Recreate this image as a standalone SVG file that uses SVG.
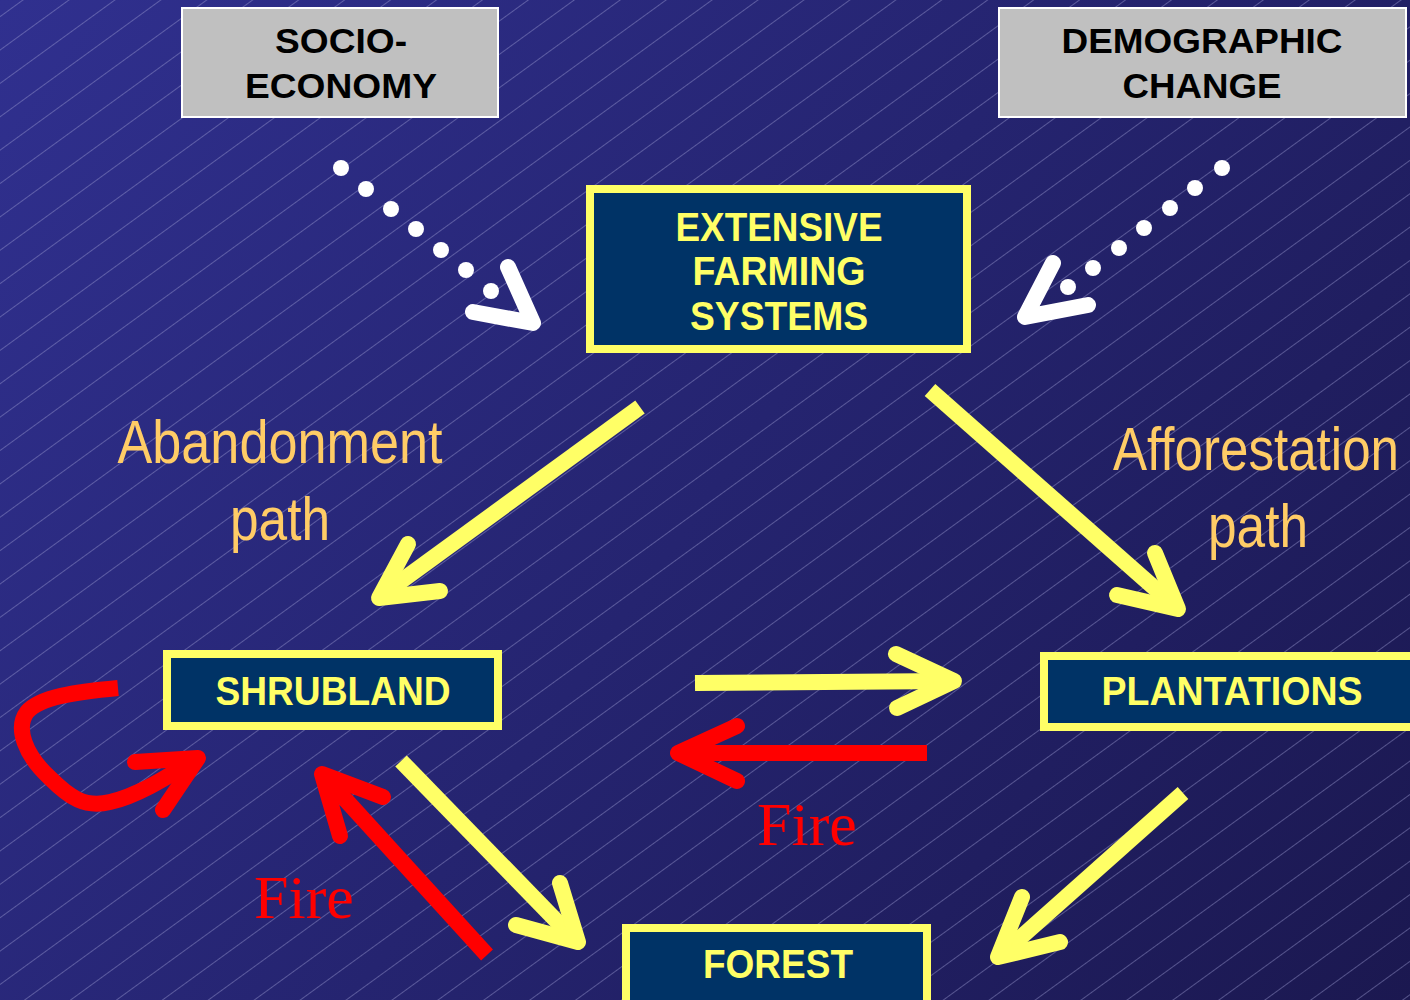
<svg xmlns="http://www.w3.org/2000/svg" width="1410" height="1000" viewBox="0 0 1410 1000">
<defs>
<linearGradient id="bg" x1="0" y1="0" x2="1410" y2="1000" gradientUnits="userSpaceOnUse">
<stop offset="0" stop-color="#30308f"/>
<stop offset="0.5" stop-color="#252470"/>
<stop offset="1" stop-color="#1b1850"/>
</linearGradient>
<pattern id="stripes" width="60" height="27" patternUnits="userSpaceOnUse" patternTransform="rotate(-36)">
<line x1="0" y1="13.5" x2="60" y2="13.5" stroke="#9c9cd0" stroke-opacity="0.45" stroke-width="1"/>
</pattern>
<style>
.gbox{fill:#c0c0c0;stroke:#ffffff;stroke-width:2}
.gtxt{font-family:"Liberation Sans",Arial,sans-serif;font-weight:bold;font-size:35px;fill:#000000;text-anchor:middle}
.ybox{fill:#003366;stroke:#ffff66;stroke-width:8}
.ytxt{font-family:"Liberation Sans",Arial,sans-serif;font-weight:bold;font-size:40px;fill:#ffff66;text-anchor:middle}
.path{font-family:"Liberation Sans Narrow","Liberation Sans",Arial,sans-serif;font-size:62px;fill:#ffcc66;text-anchor:middle}
.fire{font-family:"Liberation Serif","Times New Roman",serif;font-size:62px;fill:#ff0000}
.ys{stroke:#ffff66;stroke-width:16;fill:none;stroke-linecap:butt}
.yh{stroke:#ffff66;stroke-width:16;fill:none;stroke-linecap:round;stroke-linejoin:round}
.rs{stroke:#ff0000;stroke-width:16;fill:none;stroke-linecap:butt}
.rh{stroke:#ff0000;stroke-width:16;fill:none;stroke-linecap:round;stroke-linejoin:round}
.wh{stroke:#ffffff;stroke-width:16;fill:none;stroke-linecap:round;stroke-linejoin:round}
.dot{fill:#ffffff}
</style>
</defs>
<rect x="0" y="0" width="1410" height="1000" fill="url(#bg)"/>
<rect x="0" y="0" width="1410" height="1000" fill="url(#stripes)"/>

<g id="connectors">
<g id="socio-arrow">
<circle class="dot" cx="341" cy="168" r="8"/>
<circle class="dot" cx="366" cy="189" r="8"/>
<circle class="dot" cx="391" cy="209" r="8"/>
<circle class="dot" cx="416" cy="229" r="8"/>
<circle class="dot" cx="441" cy="250" r="8"/>
<circle class="dot" cx="466" cy="270" r="8"/>
<circle class="dot" cx="491" cy="291" r="8"/>
<polyline class="wh" points="508,267 533,323 473,312"/>
</g>
<g id="demo-arrow">
<circle class="dot" cx="1222" cy="168" r="8"/>
<circle class="dot" cx="1195" cy="188" r="8"/>
<circle class="dot" cx="1170" cy="208" r="8"/>
<circle class="dot" cx="1144" cy="228" r="8"/>
<circle class="dot" cx="1119" cy="248" r="8"/>
<circle class="dot" cx="1093" cy="268" r="8"/>
<circle class="dot" cx="1068" cy="287" r="8"/>
<polyline class="wh" points="1053,263 1025,317 1088,305"/>
</g>
<g id="efs-shrub">
<line class="ys" x1="640" y1="407" x2="382" y2="595"/>
<polyline class="yh" points="408,544 379,598 440,591"/>
</g>
<g id="efs-plant">
<line class="ys" x1="930" y1="390" x2="1176" y2="607"/>
<polyline class="yh" points="1155,553 1178,609 1117,595"/>
</g>
<g id="shrub-plant">
<line class="ys" x1="695" y1="683" x2="952" y2="681"/>
<polyline class="yh" points="896,654 954,681 897,708"/>
</g>
<g id="plant-shrub-fire">
<line class="rs" x1="927" y1="753" x2="680" y2="753"/>
<polyline class="rh" points="737,726 678,753 737,781"/>
</g>
<g id="shrub-forest">
<line class="ys" x1="401" y1="761" x2="576" y2="941"/>
<polyline class="yh" points="560,883 578,942 516,925"/>
</g>
<g id="forest-shrub-fire">
<line class="rs" x1="487" y1="955" x2="324" y2="776"/>
<polyline class="rh" points="383,797 322,774 340,836"/>
</g>
<g id="plant-forest">
<line class="ys" x1="1183" y1="793" x2="1001" y2="955"/>
<polyline class="yh" points="1022,897 998,957 1060,942"/>
</g>
<g id="shrub-self">
<path class="rs" d="M118,688 C75,692 40,697 27,712 C15,728 25,755 50,778 C70,798 85,808 110,802 C140,795 170,775 196,759"/>
<polyline class="rh" points="135,762 198,758 163,810"/>
</g>
</g>

<g id="node-socio">
<rect class="gbox" x="182" y="8" width="316" height="109"/>
<text class="gtxt" x="341" y="53" textLength="132" lengthAdjust="spacingAndGlyphs">SOCIO-</text>
<text class="gtxt" x="341" y="98" textLength="192" lengthAdjust="spacingAndGlyphs">ECONOMY</text>
</g>
<g id="node-demographic">
<rect class="gbox" x="999" y="8" width="407" height="109"/>
<text class="gtxt" x="1202" y="53" textLength="281" lengthAdjust="spacingAndGlyphs">DEMOGRAPHIC</text>
<text class="gtxt" x="1202" y="98" textLength="159" lengthAdjust="spacingAndGlyphs">CHANGE</text>
</g>
<g id="node-efs">
<rect class="ybox" x="590" y="189" width="377" height="160"/>
<text class="ytxt" x="779" y="241" textLength="207" lengthAdjust="spacingAndGlyphs">EXTENSIVE</text>
<text class="ytxt" x="779" y="285" textLength="173" lengthAdjust="spacingAndGlyphs">FARMING</text>
<text class="ytxt" x="779" y="330" textLength="178" lengthAdjust="spacingAndGlyphs">SYSTEMS</text>
</g>
<g id="node-shrubland">
<rect class="ybox" x="167" y="654" width="331" height="72"/>
<text class="ytxt" x="333" y="705" textLength="235" lengthAdjust="spacingAndGlyphs">SHRUBLAND</text>
</g>
<g id="node-plantations">
<rect class="ybox" x="1044" y="656" width="380" height="71"/>
<text class="ytxt" x="1232" y="705" textLength="261" lengthAdjust="spacingAndGlyphs">PLANTATIONS</text>
</g>
<g id="node-forest">
<rect class="ybox" x="626" y="928" width="301" height="90"/>
<text class="ytxt" x="778" y="978" textLength="150" lengthAdjust="spacingAndGlyphs">FOREST</text>
</g>

<g id="labels">
<text class="path" x="280" y="463" textLength="325" lengthAdjust="spacingAndGlyphs">Abandonment</text>
<text class="path" x="280" y="540" textLength="100" lengthAdjust="spacingAndGlyphs">path</text>
<text class="path" x="1256" y="470" textLength="286" lengthAdjust="spacingAndGlyphs">Afforestation</text>
<text class="path" x="1258" y="547" textLength="100" lengthAdjust="spacingAndGlyphs">path</text>
<text class="fire" x="757" y="845">Fire</text>
<text class="fire" x="254" y="918">Fire</text>
</g>
</svg>
